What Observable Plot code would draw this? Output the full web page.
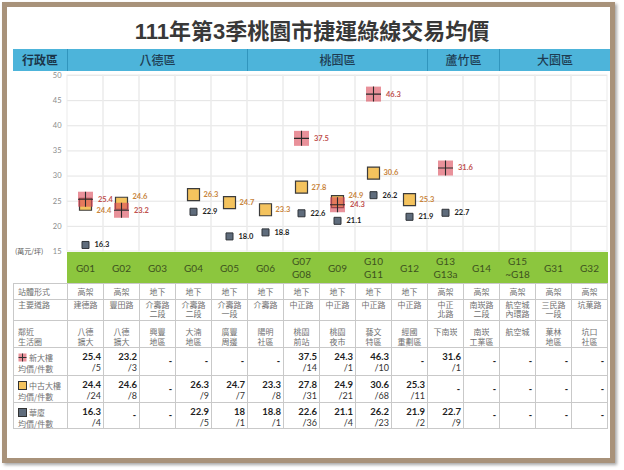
<!DOCTYPE html>
<html><head><meta charset="utf-8">
<script src="https://cdn.jsdelivr.net/npm/d3@7"></script>
<script src="https://cdn.jsdelivr.net/npm/@observablehq/plot@0.6"></script>
<style>
html,body{margin:0;padding:0;background:#fff;}
#wrap{position:relative;width:624px;height:470px;overflow:hidden;background:#fff;font-family:"Noto Sans CJK TC","Noto Sans",sans-serif;}
.abs{position:absolute;box-sizing:border-box;}
.cell{position:absolute;box-sizing:border-box;border:1px solid #c9c9c9;display:flex;white-space:pre-line;font-size:8px;line-height:9px;color:#707070;}
.num{font-family:Lato,"Noto Sans",sans-serif;}
</style></head><body><div id="wrap"></div>
<script>
// ---------- data ----------
const title1 = "111", title2 = "年第", title3 = "3", title4 = "季桃園市捷運綠線交易均價";
const districts = ["八德區","桃園區","蘆竹區","大園區"];
const districtSpan = [5,5,2,3];
const stations = ["G01","G02","G03","G04","G05","G06","G07\nG08","G09","G10\nG11","G12","G13\nG13a","G14","G15\n~G18","G31","G32"];
const stationForm = ["高架","高架","地下","地下","地下","地下","地下","地下","地下","地下","高架","高架","高架","高架","高架"];
const mainRoad = ["建德路","豐田路","介壽路\n二段","介壽路\n二段","介壽路\n一段","介壽路","中正路","中正路","中正路","中正路","中正\n北路","南崁路\n二段","航空城\n內環路","三民路\n一段","坑菓路"];
const nearArea = ["八德\n擴大","八德\n擴大","興豐\n地區","大湳\n地區","廣豐\n周邊","陽明\n社區","桃園\n前站","桃園\n夜市","藝文\n特區","經國\n重劃區","下南崁","南崁\n工業區","航空城","菓林\n地區","坑口\n社區"];
const newPrice   = [25.4,23.2,null,null,null,null,37.5,24.3,46.3,null,31.6,null,null,null,null];
const newCount   = [5,3,null,null,null,null,14,1,10,null,1,null,null,null,null];
const usedPrice  = [24.4,24.6,null,26.3,24.7,23.3,27.8,24.9,30.6,25.3,null,null,null,null,null];
const usedCount  = [24,8,null,9,7,8,31,21,68,11,null,null,null,null,null];
const smallPrice = [16.3,null,null,22.9,18.0,18.8,22.6,21.1,26.2,21.9,22.7,null,null,null,null];
const smallCount = [4,null,null,5,1,1,36,4,23,2,9,null,null,null,null];
const yTicks = [15,20,25,30,35,40,45,50];
const rowLabels = ["站體形式","主要道路","鄰近\n生活圈"];
const seriesNames = ["新大樓","中古大樓","華廈"];
const subLabel = "均價/件數";
const unitLabel = "(萬元/坪)";

// ---------- helpers ----------
const wrap = document.getElementById("wrap");
function el(tag, cls, style, text, parent = wrap) {
  const e = document.createElement(tag);
  if (cls) e.className = cls;
  Object.assign(e.style, style || {});
  if (text != null) e.textContent = text;
  parent.appendChild(e);
  return e;
}
const toRecs = (vals) => stations.map((s, i) => ({station: s, value: vals[i], i})).filter(d => d.value != null);
const newD = toRecs(newPrice), usedD = toRecs(usedPrice), smallD = toRecs(smallPrice);
usedD.forEach(d => {
  const n = newPrice[d.i];
  d.shift = (n != null && Math.abs(n - d.value) < 2) ? (d.value > n ? -1 : 1) : 0;
});
const square = {draw(ctx, size) { const r = Math.sqrt(size / Math.PI); ctx.rect(-r, -r, 2 * r, 2 * r); }};
const cross = {draw(ctx, size) { const r = Math.sqrt(size / Math.PI); ctx.moveTo(-r, 0); ctx.lineTo(r, 0); ctx.moveTo(0, -r); ctx.lineTo(0, r); }};
const C = {newFill: "#dc4e5c", newText: "#c0504d", usedFill: "#f4c35e", usedText: "#c8843c", smallFill: "#5f6c7c", smallText: "#1e1e1e"};

// ---------- frame & title ----------
el("div", "abs", {left: "2px", top: "2px", width: "613px", height: "461px", border: "5px solid #a8927a", boxShadow: "2px 2px 3px rgba(0,0,0,.35)"});
const t = el("div", "abs", {left: "0px", top: "14px", width: "624px", textAlign: "center", fontSize: "22px", lineHeight: "30px", color: "#383838", fontWeight: "500"});
[[title1, true], [title2, false], [title3, true], [title4, false]].forEach(([s, b]) => {
  el("span", b ? "num" : "", {fontWeight: b ? "900" : "600", fontFamily: b ? "'Liberation Sans',Arial,sans-serif" : ""}, s, t);
});

// ---------- chart ----------
const chart = Plot.plot({
  width: 624, height: 212,
  marginLeft: 67, marginRight: 17, marginTop: 4, marginBottom: 32,
  x: {type: "band", domain: stations, padding: 0, axis: null},
  y: {domain: [15, 50], axis: null},
  style: {background: "transparent", fontFamily: "Lato, 'Noto Sans CJK TC', sans-serif", overflow: "visible"},
  marks: [
    Plot.gridY(yTicks.filter(v => v > 15), {stroke: "#e4e4e4", strokeOpacity: 1}),
    Plot.barY(stations, {x: d => d, y1: 15, y2: 50, fill: "none", stroke: "#ebebeb"}),
    Plot.axisY(yTicks, {tickSize: 0, tickPadding: 6, fontSize: 7.5, color: "#8c8c8c", label: null}),
    Plot.text(stations, {x: d => d, frameAnchor: "bottom", dy: 16, lineAnchor: "middle", lineHeight: 1.25, text: d => d, fontSize: 10, fill: "#3e5220"}),
    Plot.dot(smallD, {x: "station", y: "value", symbol: square, r: 3.5, fill: C.smallFill, stroke: "#2f3338", strokeWidth: 1}),
    Plot.dot(usedD, {x: "station", y: "value", symbol: square, r: 6, fill: C.usedFill, stroke: "#3b3b3b", strokeWidth: 1.2}),
    Plot.dot(newD, {x: "station", y: "value", symbol: square, r: 7.5, fill: C.newFill, fillOpacity: 0.62, stroke: "none"}),
    Plot.dot(newD, {x: "station", y: "value", symbol: cross, r: 7.5, fill: "none", stroke: "#2a2a2a", strokeWidth: 1.1}),
    Plot.text(smallD, {x: "station", y: "value", text: d => d.value.toFixed(1), dx: 9, textAnchor: "start", fill: C.smallText, fontWeight: "bold", fontSize: 7.5}),
    Plot.text(usedD.filter(d => d.shift === 0), {x: "station", y: "value", text: d => d.value.toFixed(1), dx: 10, textAnchor: "start", fill: C.usedText, fontWeight: "bold", fontSize: 7.5}),
    Plot.text(usedD.filter(d => d.shift === -1), {x: "station", y: "value", text: d => d.value.toFixed(1), dx: 11, dy: -6.5, textAnchor: "start", fill: C.usedText, fontWeight: "bold", fontSize: 7.5}),
    Plot.text(usedD.filter(d => d.shift === 1), {x: "station", y: "value", text: d => d.value.toFixed(1), dx: 11, dy: 6.5, textAnchor: "start", fill: C.usedText, fontWeight: "bold", fontSize: 7.5}),
    Plot.text(newD, {x: "station", y: "value", text: d => d.value.toFixed(1), dx: 12.5, textAnchor: "start", fill: C.newText, fontWeight: "bold", fontSize: 7.5})
  ]
});
const xs = chart.scale("x");
const bw = xs.bandwidth;
const x0 = xs.apply(stations[0]);
const xEnd = xs.apply(stations[stations.length - 1]) + bw;

// green band behind the chart
el("div", "abs", {left: x0 + "px", top: "252px", width: (xEnd - x0 + 1) + "px", height: "31px", background: "#8cc63e"});
const holder = el("div", "abs", {left: "0px", top: "71px", width: "624px", height: "212px"});
holder.appendChild(chart);
el("div", "abs", {left: "15px", top: "246px", fontSize: "7px", lineHeight: "10px", color: "#555"}, unitLabel);

// ---------- header bar ----------
const hb = el("div", "abs", {left: "13px", top: "49px", width: "597px", height: "22px", background: "#4db4da"});
el("div", "abs", {left: "0px", top: "0px", width: (x0 - 13) + "px", height: "22px", lineHeight: "22px", textAlign: "center", fontSize: "12px", fontWeight: "700", color: "#1b3549"}, "行政區", hb);
let k = 0;
districts.forEach((name, j) => {
  const a = xs.apply(stations[k]);
  k += districtSpan[j];
  const b = j === districts.length - 1 ? 610 : xs.apply(stations[k - 1]) + bw;
  el("div", "abs", {left: (a - 13) + "px", top: "0px", width: (b - a) + "px", height: "22px", lineHeight: "22px", textAlign: "center", fontSize: "12px", fontWeight: "500", color: "#1e3c52", borderLeft: "1px solid #3195bd"}, name, hb);
});

// ---------- table ----------
const rowTop = [283, 299, 320, 347, 375, 402, 428];
function cell(x, y, w, h, style, text) {
  return el("div", "cell", Object.assign({left: x + "px", top: y + "px", width: (w + 1) + "px", height: (h + 1) + "px"}, style), text);
}
const labW = x0 - 13;
const infoRows = [stationForm, mainRoad, nearArea];
const infoStyle = [
  {alignItems: "center", justifyContent: "center"},
  {alignItems: "flex-start", justifyContent: "center", paddingTop: "0px"},
  {alignItems: "flex-start", justifyContent: "center", paddingTop: "6px", lineHeight: "10px"}
];
const labStyle = [
  {alignItems: "center", paddingLeft: "4px"},
  {alignItems: "flex-start", paddingLeft: "4px"},
  {alignItems: "flex-start", paddingLeft: "4px", paddingTop: "6px", lineHeight: "10px"}
];
infoRows.forEach((row, r) => {
  const y = rowTop[r], h = rowTop[r + 1] - rowTop[r];
  cell(13, y, labW, h, labStyle[r], rowLabels[r]);
  stations.forEach((s, i) => cell(xs.apply(s), y, bw, h, Object.assign({textAlign: "center"}, infoStyle[r]), row[i]));
});

const series = [[newPrice, newCount], [usedPrice, usedCount], [smallPrice, smallCount]];
function icon(parent, r) {
  const ns = "http://www.w3.org/2000/svg";
  const sv = document.createElementNS(ns, "svg");
  sv.setAttribute("width", "9"); sv.setAttribute("height", "9");
  sv.style.marginRight = "2px"; sv.style.verticalAlign = "-1px";
  const rc = document.createElementNS(ns, "rect");
  rc.setAttribute("x", "0.5"); rc.setAttribute("y", "0.5"); rc.setAttribute("width", "8"); rc.setAttribute("height", "8");
  if (r === 0) { rc.setAttribute("fill", C.newFill); rc.setAttribute("fill-opacity", "0.62"); }
  else { rc.setAttribute("fill", r === 1 ? C.usedFill : C.smallFill); rc.setAttribute("stroke", "#333"); rc.setAttribute("stroke-width", "1"); }
  sv.appendChild(rc);
  if (r === 0) {
    const p = document.createElementNS(ns, "path");
    p.setAttribute("d", "M0.5 4.5H8.5M4.5 0.5V8.5"); p.setAttribute("stroke", "#333"); p.setAttribute("stroke-width", "1");
    sv.appendChild(p);
  }
  parent.appendChild(sv);
}
series.forEach(([vals, cnts], r) => {
  const y = rowTop[r + 3], h = rowTop[r + 4] - rowTop[r + 3];
  const lc = cell(13, y, labW, h, {flexDirection: "column", paddingLeft: "4px", paddingTop: "4px", lineHeight: "11px", fontSize: "8px"});
  const l1 = el("div", "", {whiteSpace: "nowrap"}, null, lc);
  icon(l1, r);
  el("span", "", {}, seriesNames[r], l1);
  el("div", "", {whiteSpace: "nowrap"}, subLabel, lc);
  stations.forEach((s, i) => {
    const v = vals[i];
    if (v == null) {
      cell(xs.apply(s), y, bw, h, {justifyContent: "flex-end", alignItems: "center", paddingRight: "3px", paddingBottom: "2px", fontFamily: "Lato,sans-serif", fontWeight: "900", fontSize: "9px", color: "#222"}, "-");
    } else {
      const c = cell(xs.apply(s), y, bw, h, {flexDirection: "column", alignItems: "flex-end", paddingRight: "2px", paddingTop: "3px", lineHeight: "11px"});
      el("div", "num", {fontWeight: "700", fontSize: "9.5px", color: "#1e1e1e"}, String(v), c);
      el("div", "num", {fontSize: "9px", color: "#333"}, "/" + cnts[i], c);
    }
  });
});
</script></body></html>
